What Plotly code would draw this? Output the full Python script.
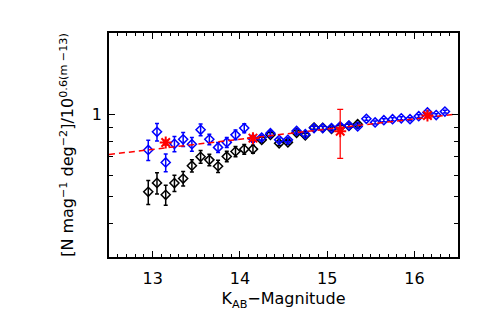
import plotly.graph_objects as go

# ---- data ----
mag = [12.95, 13.05, 13.15, 13.25, 13.35, 13.45, 13.55, 13.65, 13.75, 13.85,
       13.95, 14.05, 14.15, 14.25, 14.35, 14.45, 14.55, 14.65, 14.75, 14.85,
       14.95, 15.05, 15.15, 15.25, 15.35, 15.45, 15.55, 15.65, 15.75, 15.85,
       15.95, 16.05, 16.15, 16.25, 16.35]

blue_val = [0.743, 0.866, 0.668, 0.782, 0.813, 0.780, 0.881, 0.813, 0.759, 0.792,
            0.844, 0.894, 0.816, 0.825, 0.856, 0.809, 0.809, 0.873, 0.849, 0.894,
            0.894, 0.894, 0.907, 0.913, 0.906, 0.967, 0.938, 0.956, 0.964, 0.971,
            0.964, 0.989, 1.021, 0.998, 1.028]
blue_err = [0.063, 0.064, 0.050, 0.050, 0.048, 0.046, 0.044, 0.036, 0.032, 0.033,
            0.035, 0.034, 0.020, 0.017, 0.017, 0.013, 0.013, 0.013, 0.012, 0.012,
            0.012, 0.012, 0.012, 0.012, 0.012, 0.012, 0.012, 0.012, 0.012, 0.012,
            0.012, 0.012, 0.012, 0.012, 0.012]

black_mag = mag[:25]
black_val = [0.521, 0.562, 0.508, 0.561, 0.583, 0.650, 0.701, 0.683, 0.647, 0.703,
             0.733, 0.747, 0.748, 0.809, 0.844, 0.786, 0.792, 0.859, 0.841, 0.898,
             0.896, 0.888, 0.900, 0.911, 0.924]
black_err = [0.053, 0.050, 0.043, 0.039, 0.036, 0.034, 0.038, 0.033, 0.034, 0.031,
             0.032, 0.031, 0.025, 0.018, 0.017, 0.014, 0.014, 0.013, 0.013, 0.012,
             0.012, 0.012, 0.012, 0.012, 0.012]

red_mag = [13.15, 14.15, 15.15, 16.15]
red_val = [0.791, 0.821, 0.870, 0.995]
red_err = [0.017, 0.017, 0.178, 0.020]

model_mag = [12.5, 14.5, 16.45]
model_val = [0.715, 0.850, 1.004]

x_ticks = [13, 14, 15, 16]
y_ticks = [1]
y_minor = [0.3, 0.4, 0.5, 0.6, 0.7, 0.8, 0.9, 2]

FONT = "DejaVu Sans"

fig = go.Figure()
fig.add_trace(go.Scatter(
    x=black_mag, y=black_val, mode="markers",
    marker=dict(symbol="diamond-open", size=7, color="black", line=dict(width=1.5, color="black")),
    error_y=dict(type="data", array=black_err, color="black", thickness=1.5, width=2),
    showlegend=False))
fig.add_trace(go.Scatter(
    x=mag, y=blue_val, mode="markers",
    marker=dict(symbol="diamond-open", size=7, color="#0000ff", line=dict(width=1.5, color="#0000ff")),
    error_y=dict(type="data", array=blue_err, color="#0000ff", thickness=1.5, width=2),
    showlegend=False))
fig.add_trace(go.Scatter(
    x=model_mag, y=model_val, mode="lines",
    line=dict(color="#ff0000", width=1.5, dash="6px,4px"),
    showlegend=False))
fig.add_trace(go.Scatter(
    x=red_mag, y=red_val, mode="markers",
    marker=dict(symbol="asterisk-open", size=10, color="#ff0000", line=dict(width=2, color="#ff0000")),
    error_y=dict(type="data", array=red_err, color="#ff0000", thickness=1.2, width=3),
    showlegend=False))

fig.update_layout(
    width=483, height=319,
    margin=dict(l=101, r=33, t=25, b=70),
    paper_bgcolor="white", plot_bgcolor="white",
    font=dict(family=FONT, size=16, color="black"),
)
fig.update_xaxes(
    range=[12.5, 16.5], tickmode="array", tickvals=x_ticks,
    ticks="inside", ticklen=6, tickwidth=1, tickcolor="black",
    showline=True, linecolor="black", linewidth=1.5, mirror="allticks",
    showgrid=False, zeroline=False,
    minor=dict(dtick=0.1, ticks="inside", ticklen=3, tickcolor="black", showgrid=False),
    tickfont=dict(family=FONT, size=16), ticklabelstandoff=6,
    title=dict(text="K<sub>AB</sub>−Magnitude", font=dict(family=FONT, size=16), standoff=6),
)
fig.update_yaxes(
    type="log", range=[-0.5229, 0.30103], tickmode="array", tickvals=y_ticks, ticktext=["1"],
    ticks="inside", ticklen=6, tickwidth=1, tickcolor="black",
    showline=True, linecolor="black", linewidth=1.5, mirror="allticks",
    showgrid=False, zeroline=False,
    minor=dict(tickmode="array", tickvals=y_minor, ticks="inside", ticklen=4, tickcolor="black", showgrid=False),
    tickfont=dict(family=FONT, size=16), ticklabelstandoff=2,
    title=dict(text="[N mag<sup>−1</sup> deg<sup>−2</sup>]/10<sup>0.6(m −13)</sup>",
               font=dict(family=FONT, size=16), standoff=14),
)

fig.write_html("out.html")
